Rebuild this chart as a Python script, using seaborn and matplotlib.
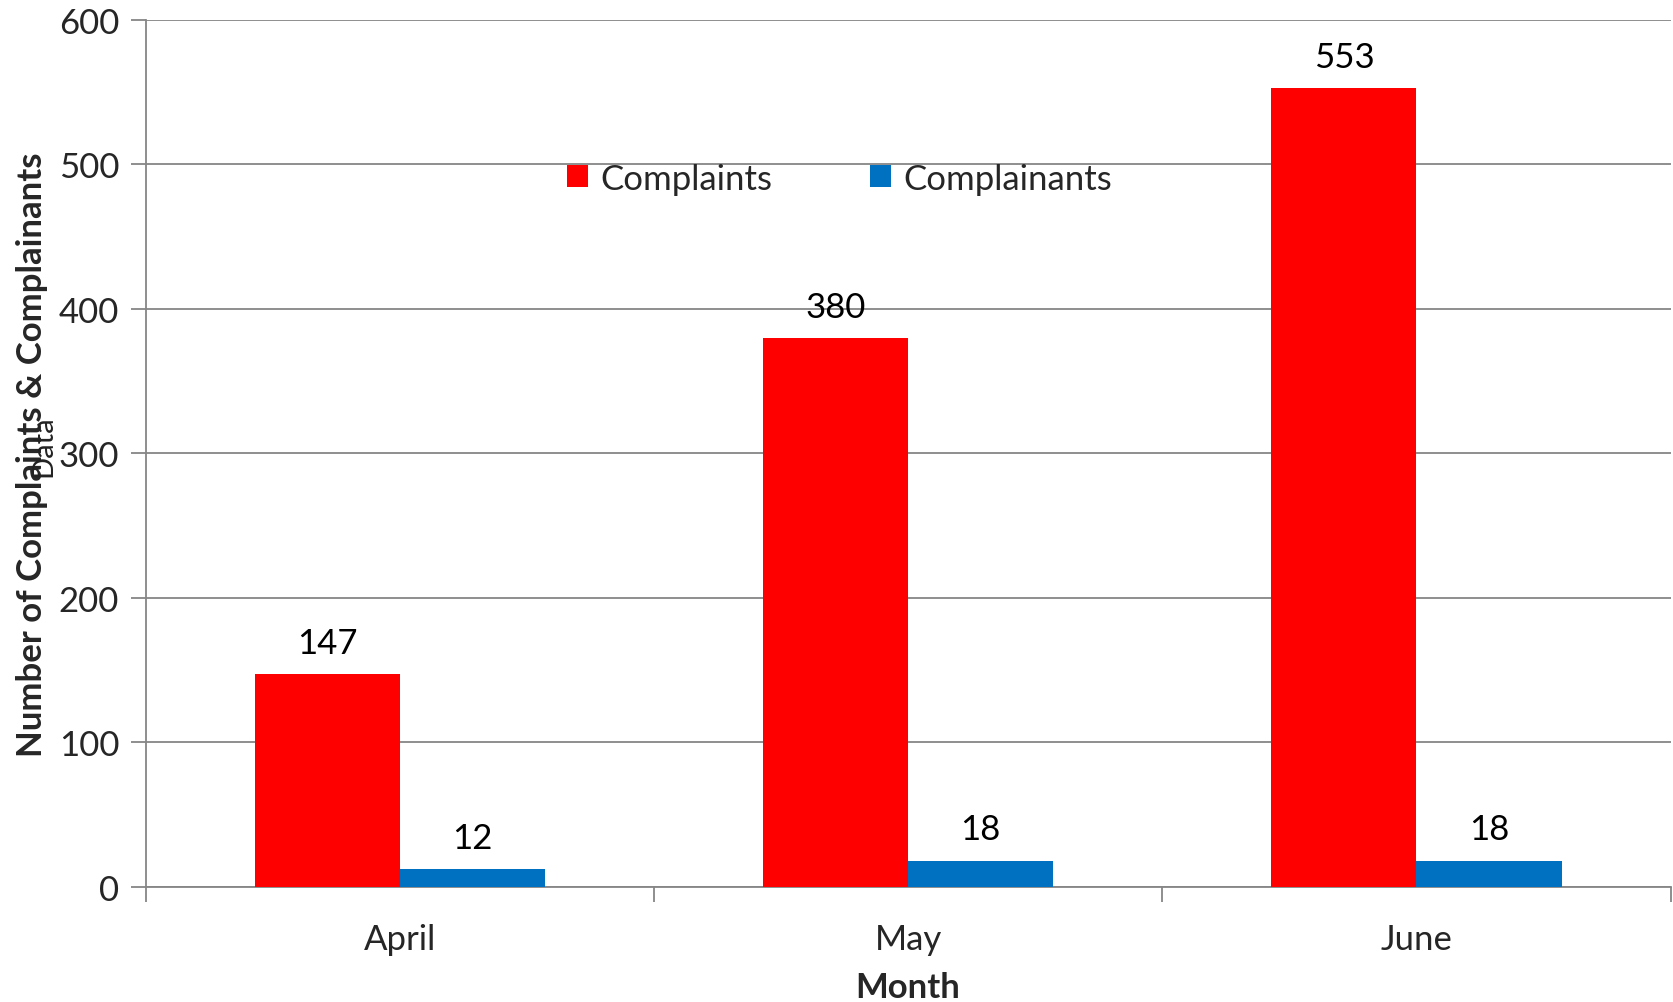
import matplotlib
matplotlib.use("Agg")
import matplotlib.pyplot as plt
import seaborn as sns
import pandas as pd
import numpy as np

months = ["April", "May", "June"]
complaints = [147, 380, 553]
complainants = [12, 18, 18]
series_names = ["Complaints", "Complainants"]
colors = ["#FF0000", "#0070C0"]
yticks = [0, 100, 200, 300, 400, 500, 600]

df = pd.DataFrame({
    "Month": months * 2,
    "Value": complaints + complainants,
    "Series": [series_names[0]] * 3 + [series_names[1]] * 3,
})

sns.set_theme(style="white")
plt.rcParams["font.family"] = ["Lato", "DejaVu Sans"]

FS = 25

fig = plt.figure(figsize=(16.74, 10.03), dpi=100)
ax = fig.add_axes([0.087, 0.115, 0.911, 0.864])

sns.barplot(data=df, x="Month", y="Value", hue="Series", order=months,
            hue_order=series_names, palette=colors, width=0.571,
            saturation=1, ax=ax, zorder=3, edgecolor="none")

for cont in ax.containers:
    ax.bar_label(cont, padding=11, fontsize=FS, color="black")

ax.set_ylim(0, 600)
ax.set_xlim(-0.5, 2.5)
ax.set_yticks(yticks)
ax.set_yticklabels([str(v) for v in yticks], fontsize=FS)
ax.yaxis.grid(True, color="#868686", linewidth=1.3, zorder=0)
ax.xaxis.grid(False)

ax.set_xticks(range(len(months)))
ax.set_xticklabels(months, fontsize=FS)
ax.tick_params(axis="x", which="major", length=0, pad=26)
ax.set_xticks([-0.5, 0.5, 1.5, 2.5], minor=True)
ax.tick_params(axis="x", which="minor", length=11, width=1.3, color="#868686", direction="out", bottom=True)
ax.tick_params(axis="y", which="major", length=11, width=1.3, color="#868686", direction="out", left=True, pad=8)

for s in ["top", "right"]:
    ax.spines[s].set_visible(False)
for s in ["left", "bottom"]:
    ax.spines[s].set_color("#868686")
    ax.spines[s].set_linewidth(1.3)

ax.set_xlabel("Month", fontsize=FS, fontweight="bold", labelpad=12)
ax.set_ylabel("Number of Complaints & Complainants", fontsize=FS, fontweight="bold", labelpad=8)

fig.text(0.026, 0.555, "Data", rotation=90, fontsize=21, ha="center", va="center", color="#222222")

leg = ax.legend(loc="center", bbox_to_anchor=(0.455, 0.817), ncol=2, frameon=False,
                fontsize=FS, handlelength=0.6, handleheight=0.6, columnspacing=2.83,
                handletextpad=0.35)

fig.savefig("out.png", dpi=100)
